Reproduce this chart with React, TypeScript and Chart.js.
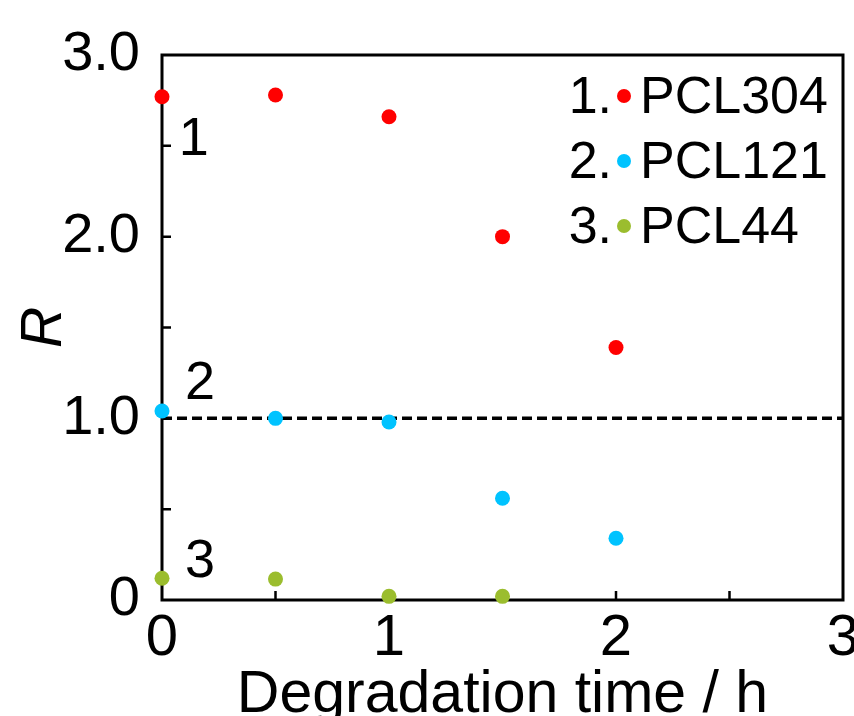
import { useEffect, useRef } from 'react';
import { Chart, registerables } from 'chart.js';

Chart.register(...registerables);

// Degradation time (h) at which R was measured
const timesH = [0, 0.5, 1, 1.5, 2];
const seriesNumbers = ['1.', '2.', '3.'];
const seriesNames = ['PCL304', 'PCL121', 'PCL44'];
const seriesColors = ['#ff0000', '#00c3ff', '#9bbd2e'];
// R values for each polymer
const pcl304R = [2.77, 2.78, 2.66, 2.0, 1.39];
const pcl121R = [1.04, 1.0, 0.98, 0.56, 0.34];
const pcl44R = [0.12, 0.115, 0.02, 0.02];
// Horizontal reference at R = 1
const referenceR = 1.0;
// Curve number tags placed near the first point of each series (data coordinates)
const tagTexts = ['1', '2', '3'];
const tagX = [0.14, 0.168, 0.168];
const tagY = [2.53, 1.19, 0.21];

const xLabelValues = [0, 1, 2, 3];
const yLabelValues = [0, 1, 2, 3];
const yLabelTexts = ['0', '1.0', '2.0', '3.0'];

const FONT = '"Liberation Sans", Arial, Helvetica, sans-serif';

const toPoints = (vals: number[]) => vals.map((v, i) => ({ x: timesH[i], y: v }));

const frameAndTicks = {
  id: 'frameAndTicks',
  beforeDatasetsDraw(chart: any) {
    const { ctx, chartArea, scales } = chart;
    const { left, top, right, bottom } = chartArea;
    ctx.save();
    ctx.strokeStyle = '#000';
    ctx.lineWidth = 3;
    ctx.strokeRect(left, top, right - left, bottom - top);
    ctx.lineWidth = 2.5;
    ctx.beginPath();
    for (const t of scales.x.ticks) {
      if (t.value <= scales.x.min || t.value >= scales.x.max) continue;
      const px = scales.x.getPixelForValue(t.value);
      ctx.moveTo(px, bottom);
      ctx.lineTo(px, bottom - 9);
    }
    for (const t of scales.y.ticks) {
      if (t.value <= scales.y.min || t.value >= scales.y.max) continue;
      const py = scales.y.getPixelForValue(t.value);
      ctx.moveTo(left, py);
      ctx.lineTo(left + 9, py);
    }
    ctx.stroke();
    ctx.restore();
  },
};

const tagsAndLegend = {
  id: 'tagsAndLegend',
  afterDatasetsDraw(chart: any) {
    const { ctx, scales } = chart;
    ctx.save();
    ctx.fillStyle = '#000';
    ctx.font = `54px ${FONT}`;
    ctx.textAlign = 'center';
    ctx.textBaseline = 'middle';
    tagTexts.forEach((t, i) => {
      ctx.fillText(t, scales.x.getPixelForValue(tagX[i]), scales.y.getPixelForValue(tagY[i]));
    });

    // legend block in the upper right corner
    ctx.font = `52px ${FONT}`;
    const rowY = [99, 164, 229];
    seriesNames.forEach((name, i) => {
      const y = rowY[i];
      ctx.fillStyle = '#000';
      ctx.textAlign = 'right';
      ctx.fillText(seriesNumbers[i], 612, y);
      ctx.textAlign = 'left';
      ctx.fillText(name, 640, y);
      ctx.fillStyle = seriesColors[i];
      ctx.beginPath();
      ctx.arc(624, y - 3, 7, 0, Math.PI * 2);
      ctx.fill();
    });
    ctx.restore();
  },
};

export default function App() {
  const canvasRef = useRef<HTMLCanvasElement | null>(null);

  useEffect(() => {
    if (!canvasRef.current) return;
    const seriesData = [pcl304R, pcl121R, pcl44R];
    const chart = new Chart(canvasRef.current, {
      type: 'scatter',
      data: {
        datasets: [
          ...seriesData.map((vals, i) => ({
            type: 'scatter' as const,
            label: seriesNames[i],
            data: toPoints(vals),
            backgroundColor: seriesColors[i],
            borderWidth: 0,
            pointRadius: 7.5,
            clip: false as any,
            order: 0,
          })),
          {
            type: 'line' as const,
            label: 'R = 1',
            data: [
              { x: 0, y: referenceR },
              { x: 3, y: referenceR },
            ],
            borderColor: '#000',
            borderWidth: 3.5,
            borderDash: [10, 5],
            pointRadius: 0,
            fill: false,
            order: 10,
          },
        ],
      },
      options: {
        animation: false,
        responsive: false,
        layout: { padding: { left: 0, top: 55, right: 57, bottom: 0 } },
        plugins: { legend: { display: false }, tooltip: { enabled: false } },
        scales: {
          x: {
            type: 'linear',
            min: 0,
            max: 3,
            grid: { display: false },
            border: { display: false },
            afterFit: (s: any) => {
              s.height = 160;
            },
            ticks: {
              stepSize: 0.5,
              autoSkip: false,
              maxRotation: 0,
              padding: 2,
              color: '#000',
              font: { family: FONT, size: 58, lineHeight: 1 },
              callback: (v: any) => (xLabelValues.includes(Number(v)) ? String(v) : ''),
            },
            title: {
              display: true,
              text: 'Degradation time / h',
              color: '#000',
              font: { family: FONT, size: 59, lineHeight: 1 },
              padding: { top: 0, bottom: 35 },
            },
          },
          y: {
            type: 'linear',
            min: 0,
            max: 3,
            grid: { display: false },
            border: { display: false },
            afterFit: (s: any) => {
              s.width = 162;
            },
            ticks: {
              stepSize: 0.5,
              autoSkip: false,
              padding: 14,
              color: '#000',
              font: { family: FONT, size: 56, lineHeight: 1 },
              callback: (v: any) => {
                const k = yLabelValues.indexOf(Number(v));
                return k >= 0 ? yLabelTexts[k] : '';
              },
            },
            title: {
              display: true,
              text: 'R',
              color: '#000',
              font: { family: FONT, size: 57, style: 'italic', lineHeight: 1 },
              padding: { top: 17, bottom: 0 },
            },
          },
        },
      },
      plugins: [frameAndTicks, tagsAndLegend],
    });
    return () => chart.destroy();
  }, []);

  return (
    <div
      style={{
        position: 'fixed',
        left: 0,
        top: 0,
        width: 854,
        height: 716,
        overflow: 'hidden',
        background: '#fff',
      }}
    >
      <canvas ref={canvasRef} width={900} height={760} style={{ display: 'block' }} />
    </div>
  );
}
